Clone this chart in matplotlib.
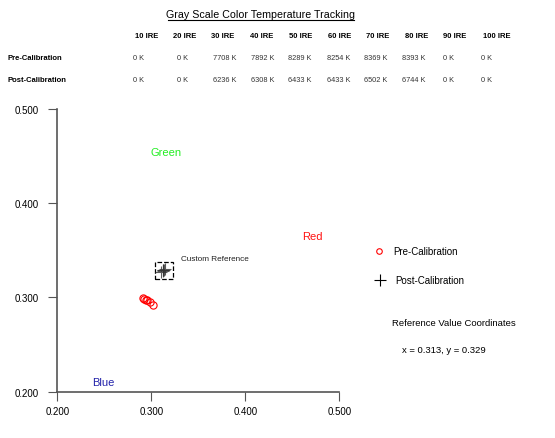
import matplotlib
matplotlib.use("Agg")
import matplotlib.pyplot as plt
from matplotlib.patches import Rectangle

plt.rcParams['font.family'] = ['Liberation Sans', 'DejaVu Sans']

# ---- data ----
ire_labels = ["10 IRE", "20 IRE", "30 IRE", "40 IRE", "50 IRE",
              "60 IRE", "70 IRE", "80 IRE", "90 IRE", "100 IRE"]
pre_temps = ["0 K", "0 K", "7708 K", "7892 K", "8289 K",
             "8254 K", "8369 K", "8393 K", "0 K", "0 K"]
post_temps = ["0 K", "0 K", "6236 K", "6308 K", "6433 K",
              "6433 K", "6502 K", "6744 K", "0 K", "0 K"]

pre_x = [0.3022, 0.2987, 0.2952, 0.2945, 0.2918, 0.2915]
pre_y = [0.2915, 0.2951, 0.2968, 0.2975, 0.2986, 0.2990]
post_x = [0.3140, 0.3135, 0.3128, 0.3126, 0.3120, 0.3100]
post_y = [0.3300, 0.3295, 0.3290, 0.3288, 0.3283, 0.3265]

ref_x, ref_y = 0.313, 0.329
ticks = [0.200, 0.300, 0.400, 0.500]

W, H = 555, 439
fig = plt.figure(figsize=(W / 100, H / 100), dpi=100)

def fx(px):
    return px / W

def fy(py):
    return 1 - py / H

# ---- title and table ----
fig.text(fx(261), fy(15), "Gray Scale Color Temperature Tracking",
         ha="center", va="center", fontsize=7.7)
fig.add_artist(plt.Line2D([fx(168), fx(354)], [fy(21), fy(21)],
                          color="black", lw=0.8))

head_cx = [147, 185, 223, 262, 301, 340, 378, 417, 455, 497]
val_lx = [133, 177, 213, 251, 288, 327, 364, 402, 443, 481]
for lab, cx in zip(ire_labels, head_cx):
    fig.text(fx(cx), fy(36), lab, ha="center", va="center",
             fontsize=5.5, fontweight="bold")
fig.text(fx(7), fy(59), "Pre-Calibration", ha="left", va="center",
         fontsize=5.5, fontweight="bold")
fig.text(fx(7), fy(81), "Post-Calibration", ha="left", va="center",
         fontsize=5.5, fontweight="bold")
for t, lx in zip(pre_temps, val_lx):
    fig.text(fx(lx), fy(59), t, ha="left", va="center", fontsize=5.3,
             color="#333333")
for t, lx in zip(post_temps, val_lx):
    fig.text(fx(lx), fy(81), t, ha="left", va="center", fontsize=5.3,
             color="#333333")

# ---- chart ----
x0, x1 = 57.3, 339.5
y0, y1 = 392.7, 110.0
ax = fig.add_axes([fx(x0), fy(y0), (x1 - x0) / W, (y0 - y1) / H])
ax.set_xlim(0.2, 0.5)
ax.set_ylim(0.2, 0.5)
for s in ["top", "right"]:
    ax.spines[s].set_visible(False)
for s in ["left", "bottom"]:
    ax.spines[s].set_color("#555555")
    ax.spines[s].set_linewidth(1.2)
ax.set_xticks(ticks)
ax.set_yticks(ticks)
ax.set_xticklabels([f"{t:.3f}" for t in ticks])
ax.set_yticklabels([f"{t:.3f}" for t in ticks])
ax.tick_params(axis="both", length=6.5, width=0.8, color="#555555",
               labelsize=7)
ax.tick_params(axis="y", pad=7)
ax.tick_params(axis="x", pad=4)
ax.xaxis.get_major_ticks()[1].tick1line.set_color("#e8e8e8")
ax.yaxis.get_major_ticks()[2].tick1line.set_color("#e8e8e8")
ax.patch.set_alpha(0)

ax.plot(pre_x, pre_y, linestyle="none", marker="o", markersize=5.2,
        markerfacecolor="none", markeredgecolor="red", markeredgewidth=0.8)
ax.plot(post_x, post_y, linestyle="none", marker="+", markersize=9,
        color="#333333", markeredgewidth=0.8, alpha=0.8)
ax.add_patch(Rectangle((ref_x - 0.0095, ref_y - 0.009), 0.019, 0.018,
                       fill=False, edgecolor="black", linestyle="--", lw=0.9))
ax.text(0.332, 0.3415, "Custom Reference", fontsize=5.9, ha="left",
        va="center", color="#222222")

ax.text(0.316, 0.454, "Green", color="#22ee22", fontsize=8, ha="center",
        va="center")
ax.text(0.4715, 0.3655, "Red", color="#ff1111", fontsize=8, ha="center",
        va="center")
ax.text(0.2485, 0.2105, "Blue", color="#2222aa", fontsize=8, ha="center",
        va="center")

# ---- legend and reference text ----
fig.add_artist(plt.Line2D([fx(379)], [fy(252)], marker="o", markersize=4,
                          markerfacecolor="none", markeredgecolor="red",
                          markeredgewidth=0.8, linestyle="none"))
fig.text(fx(393), fy(252), "Pre-Calibration", ha="left", va="center",
         fontsize=7)
fig.add_artist(plt.Line2D([fx(380)], [fy(281)], marker="+", markersize=8,
                          color="black", markeredgewidth=0.8,
                          linestyle="none"))
fig.text(fx(395), fy(281), "Post-Calibration", ha="left", va="center",
         fontsize=7)
fig.text(fx(392), fy(323), "Reference Value Coordinates", ha="left",
         va="center", fontsize=6.8)
fig.text(fx(444), fy(351), f"x = {ref_x:.3f}, y = {ref_y:.3f}",
         ha="center", va="center", fontsize=6.8)

fig.savefig("out.png", dpi=100)
